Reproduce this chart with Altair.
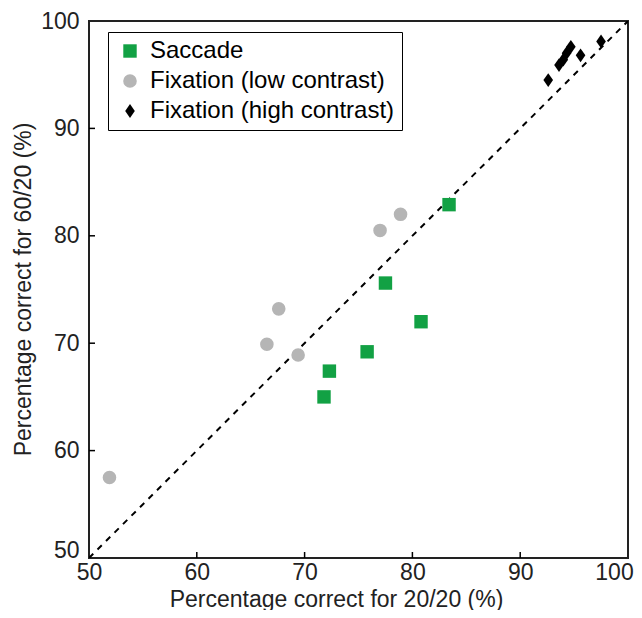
import altair as alt
import pandas as pd

groups = ["Saccade", "Fixation (low contrast)", "Fixation (high contrast)"]
colors = ["#12a144", "#b5b5b5", "#000000"]
diamond = "M0,-1L0.7,0L0,1L-0.7,0Z"
shapes = ["square", "circle", diamond]

saccade_x = [83.4, 77.5, 80.8, 75.8, 72.3, 71.8]
saccade_y = [82.9, 75.6, 72.0, 69.2, 67.4, 65.0]
low_x = [78.9, 77.0, 67.6, 66.5, 69.4, 51.9]
low_y = [82.0, 80.5, 73.2, 69.9, 68.9, 57.5]
high_x = [92.6, 93.6, 94.0, 94.3, 94.7, 95.6, 97.5]
high_y = [94.5, 95.9, 96.4, 97.0, 97.6, 96.8, 98.1]

axis_values = [50, 60, 70, 80, 90, 100]
tick_values = [60, 70, 80, 90]
diag = [50, 100]

rows = []
for g, xs_, ys_ in zip(groups, [saccade_x, low_x, high_x], [saccade_y, low_y, high_y]):
    for a, b in zip(xs_, ys_):
        rows.append({"x": a, "y": b, "group": g})
df = pd.DataFrame(rows)
diag_df = pd.DataFrame({"x": diag, "y": diag})
tick_df = pd.DataFrame({"x": tick_values, "y": tick_values})

W, H = 539, 537
FONT = "Liberation Sans"
xscale = alt.Scale(domain=[50, 100], nice=False, zero=False)
yscale = alt.Scale(domain=[50, 100], nice=False, zero=False)

xaxis = alt.Axis(
    values=axis_values, ticks=False, domain=False, grid=False,
    labelFontSize=23, labelPadding=3, labelFlush=False,
    labelOffset={"condition": {"test": "datum.value == 100", "value": -14}, "value": 0},
    title="Percentage correct for 20/20 (%)", titleFontSize=23, titleFontWeight="normal",
    titleX=247, titleY=48, titleBaseline="alphabetic", titleAlign="center",
)
yaxis = alt.Axis(
    values=axis_values, ticks=False, domain=False, grid=False,
    labelFontSize=23, labelPadding=10, labelFlush=False,
    labelOffset={"condition": {"test": "datum.value == 50", "value": -8}, "value": 0},
    title="Percentage correct for 60/20 (%)", titleFontSize=23, titleFontWeight="normal",
    titleX=-59, titleY=268, titleBaseline="alphabetic", titleAlign="center",
)

legend = alt.Legend(
    title=None, orient="none", legendX=19, legendY=11,
    strokeColor="black", fillColor="white", padding=7, rowPadding=6,
    labelFontSize=24, labelFont=FONT, labelLimit=400, symbolSize=100,
    symbolOffset=3, labelOffset=8, symbolStrokeWidth=0,
)

diag_line = alt.Chart(diag_df).mark_line(
    color="black", strokeDash=[6, 6], strokeWidth=2, clip=True
).encode(
    x=alt.X("x:Q", scale=xscale, axis=xaxis),
    y=alt.Y("y:Q", scale=yscale, axis=yaxis),
)

points = alt.Chart(df).mark_point(filled=True, opacity=1).encode(
    x=alt.X("x:Q", scale=xscale, axis=xaxis),
    y=alt.Y("y:Q", scale=yscale, axis=yaxis),
    color=alt.Color("group:N", scale=alt.Scale(domain=groups, range=colors), legend=legend),
    shape=alt.Shape("group:N", scale=alt.Scale(domain=groups, range=shapes), legend=legend),
    size=alt.Size("group:N", scale=alt.Scale(domain=groups, range=[180, 190, 270]), legend=None),
)

xticks = alt.Chart(tick_df).mark_rule(color="black", strokeWidth=1.5).encode(
    x=alt.X("x:Q", scale=xscale, axis=xaxis),
    y=alt.value(H),
    y2=alt.value(H - 6),
)
yticks = alt.Chart(tick_df).mark_rule(color="black", strokeWidth=1.5).encode(
    y=alt.Y("y:Q", scale=yscale, axis=yaxis),
    x=alt.value(0),
    x2=alt.value(6),
)

chart = alt.layer(diag_line, points, xticks, yticks).properties(
    width=W, height=H,
    autosize=alt.AutoSizeParams(type="none"),
    padding={"left": 81, "top": 13, "right": 6, "bottom": 52},
).configure(
    font=FONT,
).configure_view(
    stroke="#222", strokeWidth=2,
).configure_axis(
    labelColor="#222", titleColor="#222", labelFont=FONT, titleFont=FONT,
)

chart.save("out.html", embed_options={"renderer": "svg", "actions": False})
